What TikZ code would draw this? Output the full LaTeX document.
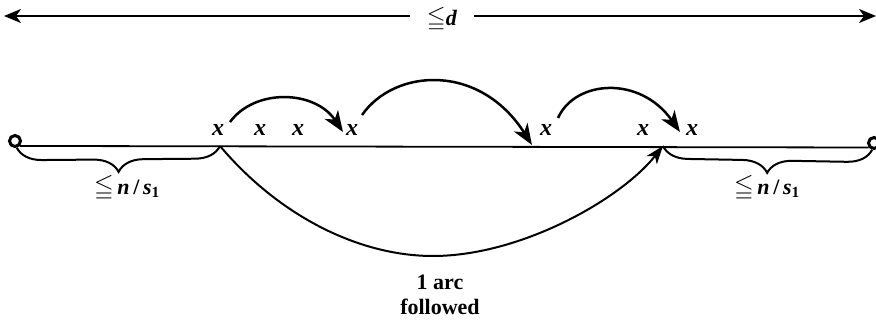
\documentclass[tikz,border=0pt]{standalone}
\usepackage{amssymb}
\usepackage{fontspec}
\setmainfont{Liberation Serif}
\usetikzlibrary{arrows.meta,decorations.pathreplacing}
\begin{document}
\begin{tikzpicture}[x=1pt,y=-1pt,
  xlbl/.style={font=\fontsize{24}{26}\selectfont\bfseries\itshape, inner sep=0pt},
  blbl/.style={font=\fontsize{22}{24}\selectfont\bfseries, inner sep=0pt},
  toparrow/.style={line width=2pt, -{Stealth[length=17pt,width=14pt,inset=5pt]}},
  hop/.style={line width=2.5pt, -{Stealth[length=21pt,width=16pt,inset=6pt]}},
  longhop/.style={line width=2pt, -{Stealth[length=18pt,width=13pt,inset=5pt]}},
  endcirc/.style={circle, draw, line width=3pt, minimum size=11pt, inner sep=0pt},
  bracedec/.style={decorate, line width=2pt, decoration={brace, mirror, amplitude=25pt}},
  mainline/.style={line width=1.8pt}]
\useasboundingbox (0,0) rectangle (876,321);
% top dimension arrow
\node[blbl, font=\fontsize{22}{24}\selectfont\bfseries, inner xsep=17pt] (d) at (442,19) {\scalebox{1.1}{$\leqq$}\textit{d}};
\coordinate (dl) at (4,16);
\coordinate (dr) at (876,16);
\draw[toparrow] (d.west |- dl) -- (dl);
\draw[toparrow] (d.east |- dr) -- (dr);
% main line
\node[endcirc] (lc) at (15,141) {};
\node[endcirc] (rc) at (874,143) {};
\coordinate (p1) at (220,146);
\coordinate (p2) at (663,146);
\draw[mainline] (lc.-45) -- (rc.-140);
% x labels
\node[xlbl] (x1) at (218,130) {x};
\node[xlbl] (x2) at (260,130) {x};
\node[xlbl] (x3) at (298,130) {x};
\node[xlbl] (x4) at (352,130) {x};
\node[xlbl] (x5) at (546,130) {x};
\node[xlbl] (x6) at (643,130) {x};
\node[xlbl] (x7) at (692,130) {x};
% hop arcs
\coordinate (a1s) at (230,122);
\coordinate (a1e) at (343,132);
\coordinate (a2s) at (362,115);
\coordinate (a2e) at (532,145);
\coordinate (a3s) at (558,118);
\coordinate (a3e) at (680,132);
\draw[hop] (a1s) .. controls (255,88) and (315,90) .. (a1e);
\draw[hop] (a2s) .. controls (395,68) and (480,63) .. (a2e);
\draw[hop] (a3s) .. controls (575,80) and (640,75) .. (a3e);
% long arc below
\coordinate (bot) at (433,256);
\draw[longhop] (p1) .. controls (280,217) and (360,256) .. (bot) .. controls (520,256) and (620,200) .. (p2);
% braces
\draw[bracedec] (lc.-75) -- (p1);
\draw[bracedec] (p2) -- (rc.-105);
\node[blbl] (b1) at (127,188) {\scalebox{1.15}{$\leqq$}\,\textit{n}\,/\,\textit{s}\textsubscript{1}};
\node[blbl] (b2) at (767,188) {\scalebox{1.15}{$\leqq$}\,\textit{n}\,/\,\textit{s}\textsubscript{1}};
% caption
\node[blbl, align=center, font=\fontsize{22}{25}\selectfont\bfseries] (cap) at (440,295) {1 arc\\followed};
\end{tikzpicture}
\end{document}
